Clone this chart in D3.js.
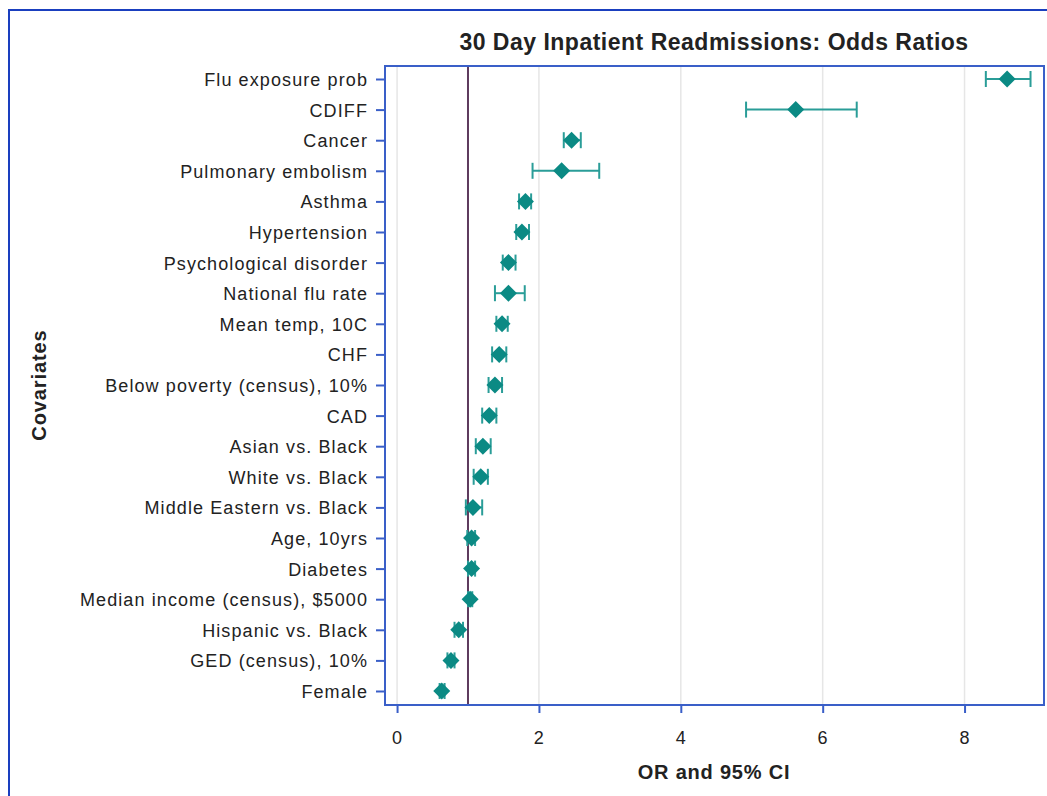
<!DOCTYPE html>
<html lang="en">

<head>
    <meta charset="utf-8">
    <title>30 Day Inpatient Readmissions</title>
    <script src="https://cdn.jsdelivr.net/npm/d3@7"></script>
</head>
<style>
    body {
        margin: 0;
        background: #fff;
    }

    text {
        font-family: "Liberation Sans", Arial, sans-serif;
        fill: #222;
    }

    .axis path,
    .axis line {
        fill: none;
        stroke: #3a5fc8;
        stroke-width: 2;
    }

    .axis text {
        font-size: 18px;
        letter-spacing: 1.1px;
        fill: #222;
    }
</style>

<body>
    <script>
        // covariates, top to bottom
        var covariates = ["Flu exposure prob", "CDIFF", "Cancer", "Pulmonary embolism", "Asthma",
            "Hypertension", "Psychological disorder", "National flu rate", "Mean temp, 10C", "CHF",
            "Below poverty (census), 10%", "CAD", "Asian vs. Black", "White vs. Black",
            "Middle Eastern vs. Black", "Age, 10yrs", "Diabetes", "Median income (census), $5000",
            "Hispanic vs. Black", "GED (census), 10%", "Female"];
        // odds ratio and 95% CI
        var oddsRatio = [8.60, 5.62, 2.46, 2.32, 1.81, 1.76, 1.57, 1.57, 1.48, 1.44,
            1.38, 1.30, 1.21, 1.18, 1.07, 1.05, 1.05, 1.03, 0.87, 0.76, 0.63];
        var lowerCI = [8.30, 4.92, 2.35, 1.91, 1.72, 1.68, 1.49, 1.38, 1.40, 1.34,
            1.29, 1.20, 1.11, 1.08, 0.97, 0.99, 1.00, 1.00, 0.81, 0.71, 0.60];
        var upperCI = [8.93, 6.48, 2.59, 2.85, 1.89, 1.86, 1.67, 1.80, 1.56, 1.54,
            1.48, 1.40, 1.32, 1.28, 1.20, 1.10, 1.10, 1.06, 0.93, 0.81, 0.67];
        var xTicks = [0, 2, 4, 6, 8];
        var refValue = 1;

        var width = 1047;
        var height = 796;
        var frame = { left: 385, right: 1044, top: 66, bottom: 705 };

        var svg = d3.select("body")
            .append("svg")
            .attr("width", width)
            .attr("height", height);

        // outer border (left and top only visible)
        svg.append("path")
            .attr("d", "M9," + height + "V10H" + width)
            .attr("fill", "none")
            .attr("stroke", "#1a3fbf")
            .attr("stroke-width", 2);

        var x = d3.scaleLinear()
            .domain([-0.17, 9.12])
            .range([frame.left, frame.right]);

        var y = d3.scalePoint()
            .domain(covariates)
            .range([79, 691]);

        var rows = covariates.map(function (c, i) {
            return { name: c, or: oddsRatio[i], lo: lowerCI[i], hi: upperCI[i] };
        });

        // grid lines
        svg.append("g")
            .selectAll("line")
            .data(xTicks)
            .enter()
            .append("line")
            .attr("x1", function (d) { return x(d); })
            .attr("x2", function (d) { return x(d); })
            .attr("y1", frame.top)
            .attr("y2", frame.bottom)
            .attr("stroke", "#e6e6e6")
            .attr("stroke-width", 1.5);

        // reference line at OR = 1
        svg.append("line")
            .attr("x1", x(refValue))
            .attr("x2", x(refValue))
            .attr("y1", frame.top)
            .attr("y2", frame.bottom)
            .attr("stroke", "#5e3b5e")
            .attr("stroke-width", 2);

        // confidence intervals
        var ci = svg.append("g")
            .selectAll("g")
            .data(rows)
            .enter()
            .append("g")
            .attr("stroke", "#2a9d98")
            .attr("stroke-width", 2);

        ci.append("line")
            .attr("x1", function (d) { return x(d.lo); })
            .attr("x2", function (d) { return x(d.hi); })
            .attr("y1", function (d) { return y(d.name); })
            .attr("y2", function (d) { return y(d.name); });

        ci.append("line")
            .attr("x1", function (d) { return x(d.lo); })
            .attr("x2", function (d) { return x(d.lo); })
            .attr("y1", function (d) { return y(d.name) - 8; })
            .attr("y2", function (d) { return y(d.name) + 8; });

        ci.append("line")
            .attr("x1", function (d) { return x(d.hi); })
            .attr("x2", function (d) { return x(d.hi); })
            .attr("y1", function (d) { return y(d.name) - 8; })
            .attr("y2", function (d) { return y(d.name) + 8; });

        // diamonds
        var r = 8.5;
        svg.append("g")
            .selectAll("path")
            .data(rows)
            .enter()
            .append("path")
            .attr("d", "M0," + (-r) + "L" + r + ",0L0," + r + "L" + (-r) + ",0Z")
            .attr("transform", function (d) {
                return "translate(" + x(d.or) + "," + y(d.name) + ")";
            })
            .attr("fill", "#0b8a84");

        // frame
        svg.append("rect")
            .attr("x", frame.left)
            .attr("y", frame.top)
            .attr("width", frame.right - frame.left)
            .attr("height", frame.bottom - frame.top)
            .attr("fill", "none")
            .attr("stroke", "#3a5fc8")
            .attr("stroke-width", 2);

        // axes
        var xAxis = svg.append("g")
            .attr("class", "axis")
            .attr("transform", "translate(0," + frame.bottom + ")")
            .call(d3.axisBottom(x).tickValues(xTicks).tickSize(8).tickPadding(18));
        xAxis.select(".domain").remove();

        var yAxis = svg.append("g")
            .attr("class", "axis")
            .attr("transform", "translate(" + frame.left + ",0)")
            .call(d3.axisLeft(y).tickSize(9).tickPadding(8));
        yAxis.select(".domain").remove();
        yAxis.selectAll("text").attr("dy", "0.36em");

        // titles
        svg.append("text")
            .attr("x", 714)
            .attr("y", 50)
            .attr("text-anchor", "middle")
            .attr("font-size", 23)
            .attr("font-weight", "bold")
            .attr("letter-spacing", 0.5)
            .text("30 Day Inpatient Readmissions: Odds Ratios");

        svg.append("text")
            .attr("x", 714)
            .attr("y", 779)
            .attr("text-anchor", "middle")
            .attr("font-size", 20)
            .attr("font-weight", "bold")
            .attr("letter-spacing", 0.8)
            .text("OR and 95% CI");

        svg.append("text")
            .attr("transform", "translate(46,385) rotate(-90)")
            .attr("text-anchor", "middle")
            .attr("font-size", 20)
            .attr("font-weight", "bold")
            .attr("letter-spacing", 0.9)
            .text("Covariates");
    </script>
</body>

</html>
